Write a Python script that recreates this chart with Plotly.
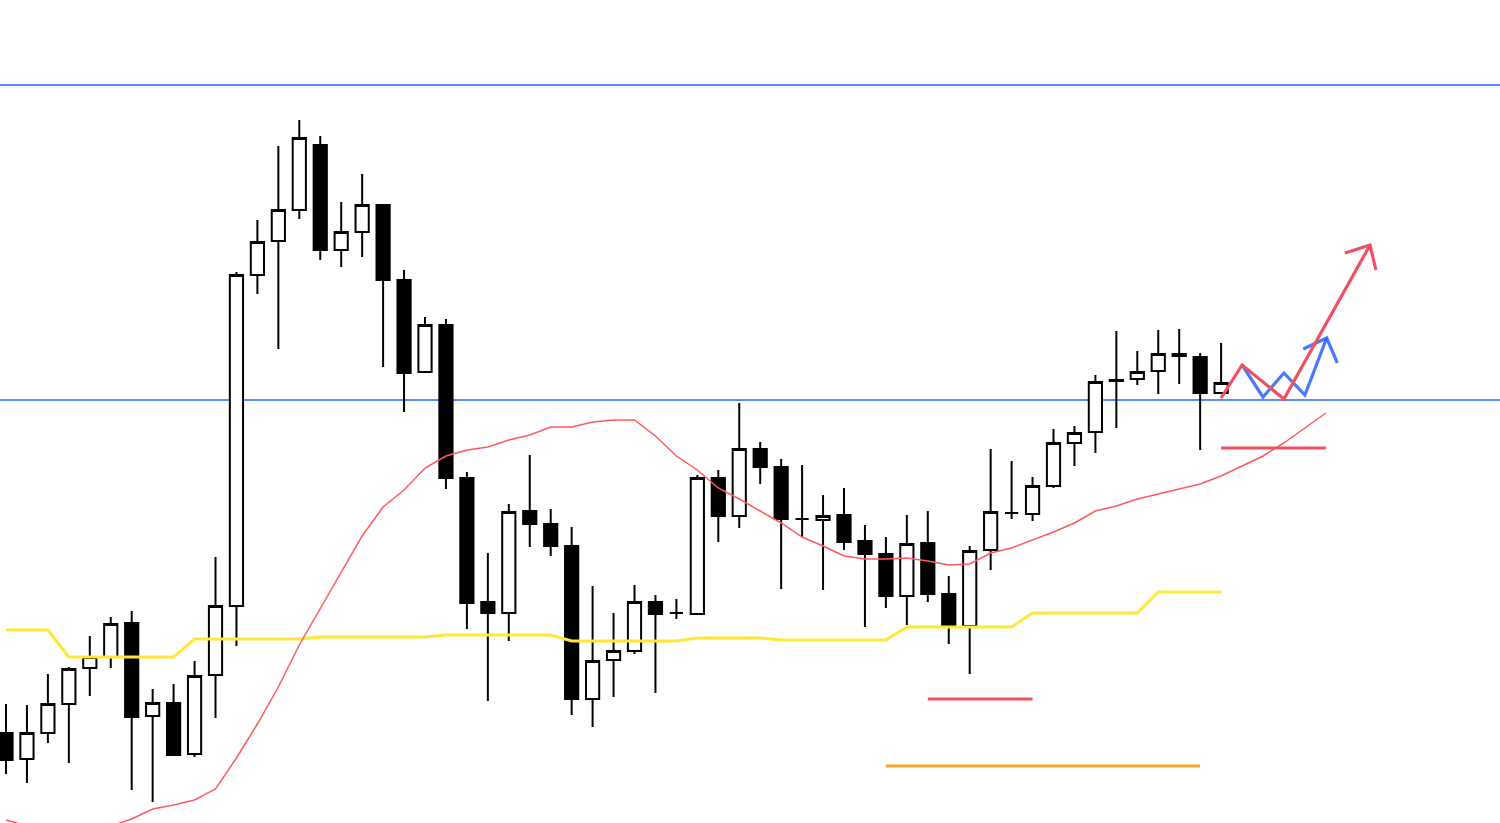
import plotly.graph_objects as go

# candle data (bar index 0..58)
opens = [146.67, 146.41, 146.67, 146.96, 147.32, 147.43, 147.77, 146.84, 146.97, 146.46,
         147.25, 147.94, 151.25, 151.59, 151.90, 152.55, 151.50, 151.68, 151.95, 151.20,
         150.28, 150.75, 149.22, 147.98, 147.87, 148.89, 148.76, 148.54, 147.01, 147.40,
         147.49, 147.98, 147.87, 147.86, 149.22, 148.84, 149.51, 149.33, 148.81, 148.80,
         148.85, 148.59, 148.46, 148.04, 148.57, 148.06, 147.74, 148.50, 148.87, 148.86,
         149.14, 149.57, 149.68, 150.20, 150.21, 150.29, 150.46, 150.43, 150.07]
highs = [146.96, 146.95, 147.26, 147.33, 147.64, 147.83, 147.89, 147.11, 147.16, 147.39,
         148.43, 151.28, 151.80, 152.54, 152.80, 152.64, 151.98, 152.26, 151.96, 151.30,
         150.83, 150.81, 149.28, 148.47, 148.96, 149.45, 148.91, 148.73, 148.14, 147.87,
         148.15, 148.05, 148.01, 149.25, 149.30, 149.97, 149.58, 149.41, 149.35, 149.05,
         149.12, 148.75, 148.63, 148.85, 148.89, 148.24, 148.54, 149.51, 149.39, 149.23,
         149.71, 149.74, 150.25, 150.69, 150.49, 150.70, 150.71, 150.47, 150.57]
lows = [146.26, 146.17, 146.57, 146.37, 147.04, 147.32, 146.10, 145.98, 146.44, 146.43,
        146.82, 147.54, 151.06, 150.51, 151.81, 151.40, 151.33, 151.43, 150.33, 149.88,
        150.28, 149.11, 147.71, 146.99, 147.59, 148.53, 148.44, 146.85, 146.73, 147.03,
        147.46, 147.07, 147.81, 147.86, 148.58, 148.72, 149.16, 148.11, 148.63, 148.10,
        148.50, 147.73, 147.92, 147.75, 147.98, 147.56, 147.26, 148.30, 148.81, 148.79,
        149.12, 149.34, 149.47, 149.72, 150.15, 150.06, 150.16, 149.50, 150.07]
closes = [146.40, 146.67, 146.96, 147.31, 147.43, 147.76, 146.83, 146.97, 146.45, 147.24,
          147.94, 151.25, 151.58, 151.90, 152.62, 151.50, 151.68, 151.95, 151.20, 150.27,
          150.75, 149.22, 147.97, 147.87, 148.88, 148.76, 148.54, 147.01, 147.39, 147.49,
          147.98, 147.86, 147.87, 149.22, 148.84, 149.51, 149.33, 148.81, 148.81, 148.84,
          148.58, 148.46, 148.04, 148.56, 148.06, 147.74, 148.49, 148.88, 148.87, 149.14,
          149.57, 149.67, 150.18, 150.19, 150.28, 150.46, 150.44, 150.07, 150.17]

# moving average (red), extended past the last bar as drawn
ma = [145.80, 145.74, 145.71, 145.70, 145.71, 145.74, 145.81, 145.91, 145.95, 146.00,
      146.11, 146.42, 146.76, 147.13, 147.55, 147.91, 148.28, 148.64, 148.93, 149.10,
      149.32, 149.44, 149.50, 149.53, 149.60, 149.65, 149.73, 149.73, 149.78, 149.80,
      149.80, 149.64, 149.44, 149.30, 149.12, 149.01, 148.89, 148.77, 148.63, 148.54,
      148.44, 148.41, 148.41, 148.42, 148.39, 148.35, 148.36, 148.47, 148.52, 148.60,
      148.68, 148.77, 148.89, 148.94, 149.01, 149.06, 149.11, 149.16, 149.24, 149.34,
      149.44, 149.57, 149.72, 149.87]

# stepped yellow line
yellow = [147.70] * 3 + [147.43] * 6 + [147.61] * 6 + [147.63] * 6 + [147.65] * 6 + \
         [147.59] * 6 + [147.62] * 4 + [147.60] * 6 + [147.73] * 6 + [147.87] * 6 + [148.08] * 4

# horizontal levels
levels = [153.15, 150.00]

# short segments: (start idx, end idx, price, colour)
segments = [
    (58, 63, 149.52, "#F0505F"),
    (44, 49, 147.01, "#F0505F"),
    (42, 57, 146.34, "#F5A530"),
]

# hand drawn scenario paths
red_path_x = [58, 59, 61, 65.11]
red_path_y = [150.02, 150.35, 150.01, 151.55]
red_head_x = [63.91, 65.11, 65.39]
red_head_y = [151.47, 151.55, 151.30]
blue_path_x = [59, 60, 61, 62, 63.04]
blue_path_y = [150.35, 150.03, 150.27, 150.05, 150.62]
blue_head_x = [61.92, 63.04, 63.55]
blue_head_y = [150.51, 150.62, 150.37]

idx = list(range(len(opens)))

fig = go.Figure()

for lv in levels:
    fig.add_hline(y=lv, line=dict(color="#2962FF", width=1.6), layer="below")

fig.add_trace(go.Scatter(x=list(range(len(yellow))), y=yellow, mode="lines",
                         line=dict(color="#FFE83A", width=3), hoverinfo="skip"))
fig.add_trace(go.Scatter(x=list(range(len(ma))), y=ma, mode="lines",
                         line=dict(color="#FF5A5F", width=1.5), hoverinfo="skip"))

fig.add_trace(go.Candlestick(
    x=idx, open=opens, high=highs, low=lows, close=closes,
    increasing=dict(line=dict(color="black", width=2), fillcolor="white"),
    decreasing=dict(line=dict(color="black", width=2), fillcolor="black"),
))

for x0, x1, p, c in segments:
    fig.add_trace(go.Scatter(x=[x0, x1], y=[p, p], mode="lines",
                             line=dict(color=c, width=3.2), hoverinfo="skip"))

blue = "rgba(41,98,255,0.85)"
red = "#F0505F"
fig.add_trace(go.Scatter(x=blue_path_x, y=blue_path_y, mode="lines",
                         line=dict(color=blue, width=3.2), hoverinfo="skip"))
fig.add_trace(go.Scatter(x=blue_head_x, y=blue_head_y, mode="lines",
                         line=dict(color=blue, width=3.2), hoverinfo="skip"))
fig.add_trace(go.Scatter(x=red_path_x, y=red_path_y, mode="lines",
                         line=dict(color=red, width=3.2), hoverinfo="skip"))
fig.add_trace(go.Scatter(x=red_head_x, y=red_head_y, mode="lines",
                         line=dict(color=red, width=3.2), hoverinfo="skip"))

x_min = -6 / 20.95
x_max = x_min + 1500 / 20.95
fig.update_layout(
    width=1500, height=823, autosize=False,
    margin=dict(l=0, r=0, t=0, b=0),
    paper_bgcolor="white", plot_bgcolor="white",
    showlegend=False,
    boxgap=0.1, boxgroupgap=0.3,
    xaxis=dict(range=[x_min, x_max], visible=False, rangeslider=dict(visible=False),
               showgrid=False, zeroline=False),
    yaxis=dict(range=[145.77, 154.00], visible=False, showgrid=False, zeroline=False),
)

# drop the default page margin so the chart sits at the window corner
fig.write_html("out.html", config={"displayModeBar": False},
               post_script="document.body.style.margin='0';")
